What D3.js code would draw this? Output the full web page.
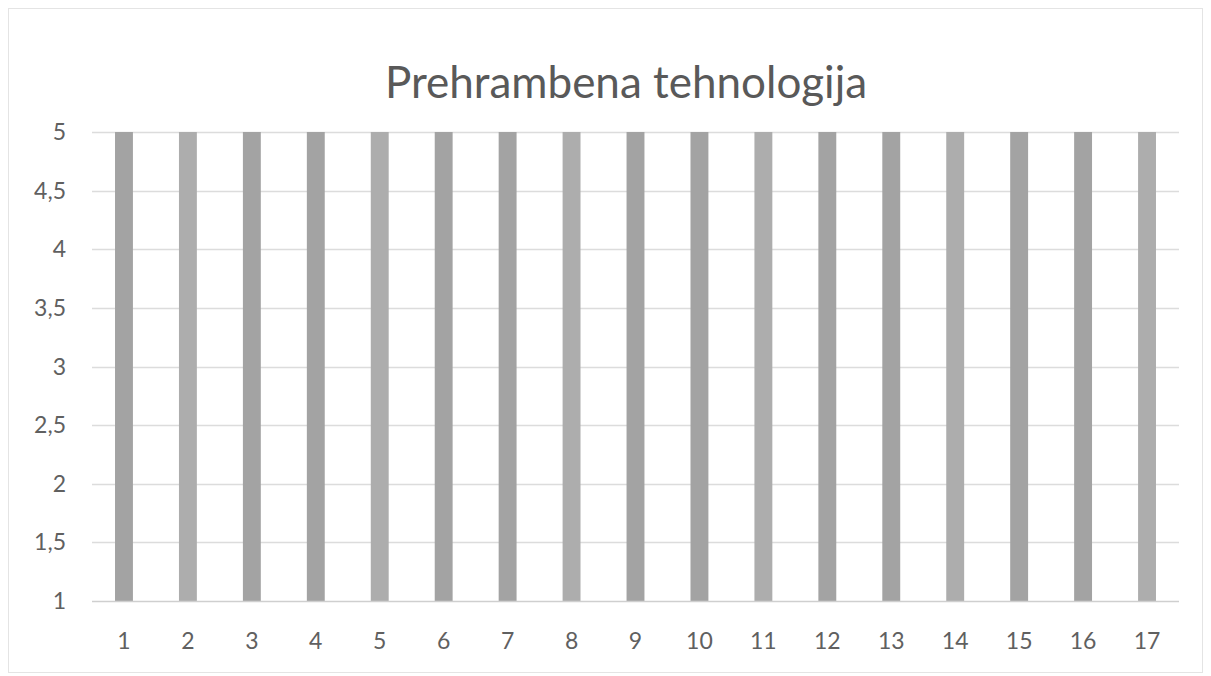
<!DOCTYPE html>
<html>
<head>
<meta charset="utf-8">
<script src="https://cdn.jsdelivr.net/npm/d3@7"></script>
<style>
  body { margin: 0; background: #fff; }
  text { font-family: Lato, "Open Sans", sans-serif; }
</style>
</head>
<body>
<svg id="chart"></svg>
<script>
// chart data
var categories = ["1","2","3","4","5","6","7","8","9","10","11","12","13","14","15","16","17"];
var values = [5,5,5,5,5,5,5,5,5,5,5,5,5,5,5,5,5];
var yTicks = [1,1.5,2,2.5,3,3.5,4,4.5,5];
var chartTitle = "Prehrambena tehnologija";

var screen = {width: 1211, height: 676};
var margins = {top: 132, bottom: 75, left: 92, right: 32};

var plotW = screen.width - margins.left - margins.right;
var plotH = screen.height - margins.top - margins.bottom;

var svg = d3.select("#chart")
  .attr("width", screen.width)
  .attr("height", screen.height);

// outer frame
svg.append("rect")
  .attr("x", 8.5).attr("y", 8.5)
  .attr("width", screen.width - 17).attr("height", screen.height - 12)
  .attr("fill", "none")
  .attr("stroke", "#e4e4e4");

var xScale = d3.scaleBand()
  .domain(categories)
  .range([0, plotW])
  .paddingInner(0.72)
  .paddingOuter(0.36);

var yScale = d3.scaleLinear()
  .domain([1, 5])
  .range([plotH, 0]);

var g = svg.append("g")
  .attr("transform", "translate(" + margins.left + "," + margins.top + ")");

// gridlines
g.append("g").selectAll("line")
  .data(yTicks.slice(1))
  .enter().append("line")
  .attr("x1", 0).attr("x2", plotW)
  .attr("y1", function(d){ return Math.round(yScale(d)) + 0.5; })
  .attr("y2", function(d){ return Math.round(yScale(d)) + 0.5; })
  .attr("stroke", "#dcdcdc")
  .attr("stroke-width", 1.5);

// bars
g.append("g").selectAll("rect")
  .data(values)
  .enter().append("rect")
  .attr("x", function(d, i){ return xScale(categories[i]); })
  .attr("width", xScale.bandwidth())
  .attr("y", function(d){ return yScale(d); })
  .attr("height", function(d){ return yScale(1) - yScale(d); })
  .attr("fill", function(d, i){ return i % 3 == 1 ? "#adadad" : "#a3a3a3"; });

// x axis line
g.append("line")
  .attr("x1", 0).attr("x2", plotW)
  .attr("y1", plotH + 0.5).attr("y2", plotH + 0.5)
  .attr("stroke", "#cfcfcf")
  .attr("stroke-width", 1.5);

// y labels
var fmt = function(d){ return String(d).replace(".", ","); };
g.append("g").selectAll("text")
  .data(yTicks)
  .enter().append("text")
  .attr("x", -26)
  .attr("y", function(d){ return yScale(d); })
  .attr("dy", "0.35em")
  .attr("text-anchor", "end")
  .attr("font-size", 23)
  .attr("fill", "#606060")
  .text(fmt);

// x labels
g.append("g").selectAll("text")
  .data(categories)
  .enter().append("text")
  .attr("x", function(d){ return xScale(d) + xScale.bandwidth() / 2; })
  .attr("y", plotH + 48)
  .attr("text-anchor", "middle")
  .attr("font-size", 23)
  .attr("fill", "#606060")
  .text(function(d){ return d; });

// title
svg.append("text")
  .attr("x", 626)
  .attr("y", 98)
  .attr("text-anchor", "middle")
  .attr("font-size", 44)
  .attr("fill", "#595959")
  .text(chartTitle);
</script>
</body>
</html>
